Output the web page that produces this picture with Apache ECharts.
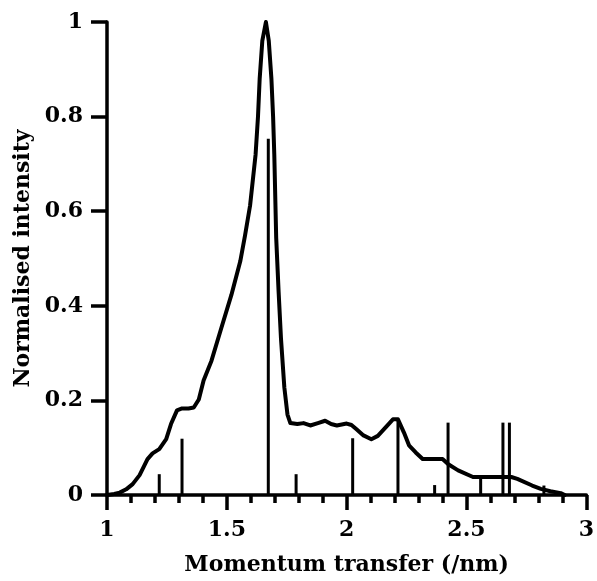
<!DOCTYPE html>
<html>
<head>
<meta charset="utf-8">
<script src="https://cdn.jsdelivr.net/npm/echarts@6/dist/echarts.min.js"></script>
<style>html,body{margin:0;padding:0;background:#fff;}#c{width:597px;height:581px;}</style>
</head>
<body>
<div id="c"></div>
<script>
// Measured diffraction profile: momentum transfer (/nm) and normalised intensity
const curveQ = [1.00,1.03,1.053,1.08,1.107,1.136,1.169,1.19,1.218,1.247,1.267,1.292,1.313,1.340,1.362,1.383,1.403,1.436,1.477,1.519,1.556,1.576,1.597,1.620,1.630,1.637,1.648,1.663,1.675,1.686,1.693,1.698,1.706,1.716,1.726,1.740,1.753,1.765,1.794,1.820,1.848,1.880,1.910,1.935,1.959,2.000,2.020,2.041,2.070,2.103,2.130,2.152,2.175,2.193,2.214,2.239,2.260,2.288,2.317,2.400,2.424,2.465,2.527,2.588,2.687,2.712,2.774,2.810,2.850,2.893,2.910];
const curveI = [0.000,0.002,0.005,0.012,0.023,0.042,0.076,0.088,0.097,0.118,0.150,0.179,0.183,0.183,0.185,0.202,0.242,0.284,0.353,0.423,0.494,0.549,0.612,0.720,0.800,0.880,0.960,1.000,0.960,0.880,0.800,0.720,0.543,0.430,0.330,0.227,0.170,0.152,0.150,0.152,0.147,0.152,0.157,0.150,0.147,0.151,0.148,0.139,0.126,0.118,0.125,0.137,0.150,0.160,0.160,0.132,0.105,0.090,0.076,0.076,0.065,0.052,0.038,0.038,0.038,0.034,0.020,0.013,0.008,0.004,0.000];
// Calculated reflection positions and intensities (sticks)
const stickQ = [1.218,1.313,1.673,1.789,2.025,2.214,2.367,2.423,2.559,2.652,2.679,2.823];
const stickI = [0.044,0.119,0.753,0.044,0.120,0.160,0.021,0.153,0.042,0.153,0.153,0.020];
const xTicks = [1,1.5,2,2.5,3];
const yTicks = [0,0.2,0.4,0.6,0.8,1];

const chart = echarts.init(document.getElementById('c'), null, {renderer:'canvas'});
const serif = 'DejaVu Serif';
const curveData = curveQ.map((q,i)=>[q,curveI[i]]);
const stickData = stickQ.map((q,i)=>[q,stickI[i]]);

chart.setOption({
  animation:false,
  backgroundColor:'#fff',
  grid:{left:107,right:4,top:22,bottom:83,containLabel:false},
  xAxis:{
    type:'value', min:xTicks[0], max:xTicks[xTicks.length-1], interval:0.5,
    name:'Momentum transfer (/nm)', nameLocation:'middle', nameGap:59,
    nameTextStyle:{fontFamily:serif,fontWeight:'bold',fontSize:22,color:'#000'},
    axisLine:{show:true,onZero:false,lineStyle:{color:'#000',width:3.5}},
    axisTick:{show:true,length:15,lineStyle:{color:'#000',width:3.5}},
    minorTick:{show:true,splitNumber:5,length:8,lineStyle:{color:'#000',width:3.5}},
    axisLabel:{margin:24,fontFamily:serif,fontSize:22,color:'#000',fontWeight:'bold'},
    splitLine:{show:false}
  },
  yAxis:{
    type:'value', min:yTicks[0], max:yTicks[yTicks.length-1], interval:0.2,
    name:'Normalised intensity', nameLocation:'middle', nameGap:71, nameRotate:90,
    nameTextStyle:{fontFamily:serif,fontWeight:'bold',fontSize:22,color:'#000'},
    axisLine:{show:true,lineStyle:{color:'#000',width:3.5}},
    axisTick:{show:true,length:16,lineStyle:{color:'#000',width:3.5}},
    axisLabel:{margin:24,fontFamily:serif,fontSize:22,color:'#000',fontWeight:'bold'},
    splitLine:{show:false}
  },
  series:[
    {
      type:'custom',
      data:stickData,
      renderItem:function(params,api){
        const p0 = api.coord([api.value(0),0]);
        const p1 = api.coord([api.value(0),api.value(1)]);
        return {type:'line',shape:{x1:p0[0],y1:p0[1],x2:p1[0],y2:p1[1]},style:{stroke:'#000',lineWidth:3}};
      },
      z:2
    },
    {
      type:'line',
      data:curveData,
      showSymbol:false,
      symbol:'none',
      lineStyle:{color:'#000',width:4,join:'round',cap:'round'},
      z:3
    }
  ]
});
</script>
</body>
</html>
